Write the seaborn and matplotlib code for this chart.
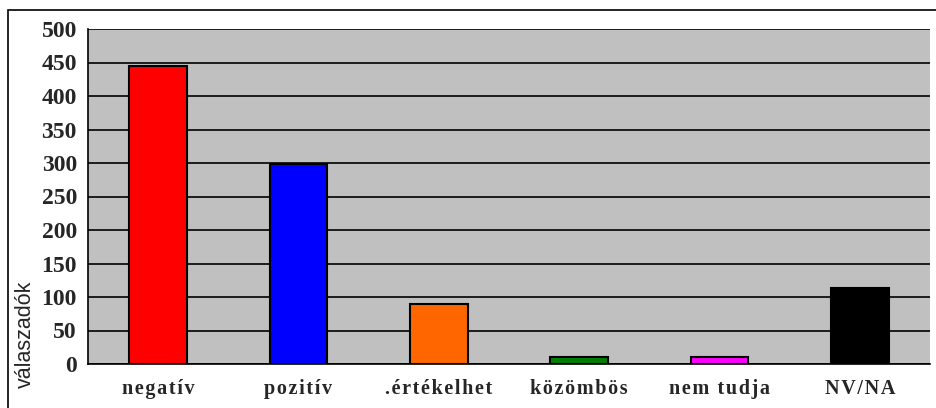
import matplotlib
matplotlib.use("Agg")
import matplotlib.pyplot as plt
import seaborn as sns
import pandas as pd
import numpy as np
from matplotlib.patches import Rectangle

categories = ["negatív", "pozitív", ".értékelhet", "közömbös", "nem tudja", "NV/NA"]
values = [445, 298, 89, 11, 11, 113]
colors = ["#FF0000", "#0000FF", "#FF6600", "#008000", "#FF00FF", "#000000"]
yticks = [0, 50, 100, 150, 200, 250, 300, 350, 400, 450, 500]

sns.set_style("white")
plt.rcParams['font.family'] = ['Liberation Serif', 'DejaVu Serif']

df = pd.DataFrame({"cat": categories, "val": values})

fig = plt.figure(figsize=(9.37, 4.08), dpi=100)
ax = fig.add_axes([88/937, 44/408, (930-88)/937, (364-29)/408])
ax.set_facecolor("#C0C0C0")

sns.barplot(data=df, x="cat", y="val", hue="cat", palette=colors, order=categories,
            hue_order=categories, width=0.41, edgecolor="black", linewidth=1.5,
            legend=False, ax=ax, zorder=3, saturation=1)

ax.set_ylim(0, 500)
ax.set_xlim(-0.5, len(categories) - 0.5)
ax.set_yticks(yticks)
ax.set_yticklabels([str(t) for t in yticks], fontsize=17, fontweight="bold")
ax.yaxis.grid(True, color="black", linewidth=1.2, zorder=0)
ax.set_axisbelow(True)
ax.tick_params(axis="y", length=5, width=1, color="black", direction="out", pad=3)

spaced = ["\u200a".join(c) for c in categories]
ax.set_xticks(range(len(categories)))
ax.set_xticklabels(spaced, fontsize=14.5, fontweight="bold")
ax.tick_params(axis="x", which="major", length=0, pad=11)
ax.set_xticks(np.arange(0.5, len(categories) - 0.5, 1), minor=True)
ax.tick_params(axis="x", which="minor", length=6, width=1, color="black", direction="out")

ax.set_xlabel("")
ax.set_ylabel("válaszadók", fontsize=15.5, family=["Liberation Sans", "DejaVu Sans"])
ax.yaxis.set_label_coords(-0.062, 0.09)

for side in ["top", "right"]:
    ax.spines[side].set_visible(False)
ax.spines["left"].set_color("black")
ax.spines["bottom"].set_color("black")
ax.spines["left"].set_linewidth(1.2)
ax.spines["bottom"].set_linewidth(1.2)

fig.patches.append(Rectangle((8/937, -0.2), 1.2, (408-10)/408 + 0.2,
                             transform=fig.transFigure, fill=False,
                             edgecolor="black", linewidth=1.2, clip_on=False))

fig.savefig("out.png", dpi=100)
